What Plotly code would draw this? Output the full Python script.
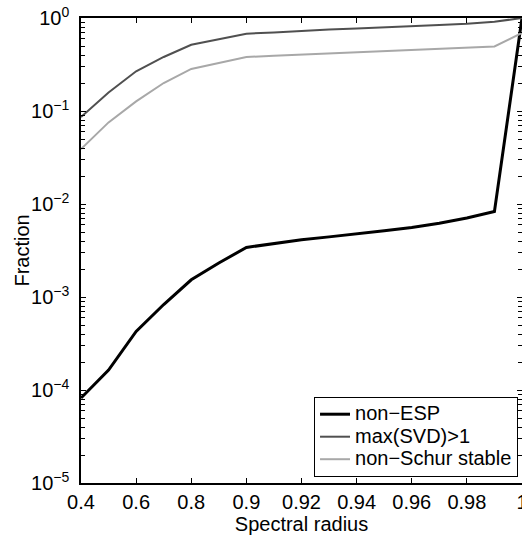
import plotly.graph_objects as go

# Spectral radius values (plotted on an ordinal axis, as in the reference)
radius = ["0.4", "0.5", "0.6", "0.7", "0.8", "0.85", "0.9", "0.91", "0.92", "0.93",
          "0.94", "0.95", "0.96", "0.97", "0.98", "0.99", "1"]

non_esp = [8.2e-5, 1.64e-4, 4.27e-4, 8.3e-4, 1.53e-3, 2.32e-3, 3.41e-3, 3.74e-3, 4.13e-3,
           4.43e-3, 4.76e-3, 5.16e-3, 5.6e-3, 6.2e-3, 7.07e-3, 8.3e-3, 1.0]
max_svd = [0.086, 0.158, 0.267, 0.381, 0.516, 0.594, 0.678, 0.70, 0.73, 0.752, 0.773,
           0.792, 0.812, 0.841, 0.868, 0.912, 1.0]
non_schur = [0.039, 0.0754, 0.127, 0.20, 0.283, 0.328, 0.381, 0.392, 0.403, 0.415, 0.428,
             0.44, 0.454, 0.467, 0.481, 0.495, 0.69]

series_names = ["non−ESP", "max(SVD)>1", "non−Schur stable"]

x_tick_labels = ["0.4", "0.6", "0.8", "0.9", "0.92", "0.94", "0.96", "0.98", "1"]
y_tick_vals = [1e-5, 1e-4, 1e-3, 1e-2, 1e-1, 1e0]
y_tick_text = ["10<sup>−5</sup>", "10<sup>−4</sup>", "10<sup>−3</sup>", "10<sup>−2</sup>",
               "10<sup>−1</sup>", "10<sup>0</sup>"]
y_minor_vals = [m * 10.0 ** e for e in range(-5, 0) for m in range(2, 10)]

FONT = "Liberation Sans, Arial, Helvetica, sans-serif"


def big(s):
    return '<span style="font-size:20px">' + s + "</span>"


fig = go.Figure()
fig.add_trace(go.Scatter(x=radius, y=non_esp, mode="lines", name=big(series_names[0]),
                         line=dict(color="#000000", width=3)))
fig.add_trace(go.Scatter(x=radius, y=max_svd, mode="lines", name=big(series_names[1]),
                         line=dict(color="#505050", width=2)))
fig.add_trace(go.Scatter(x=radius, y=non_schur, mode="lines", name=big(series_names[2]),
                         line=dict(color="#a8a8a8", width=2)))

fig.update_layout(
    width=522, height=535,
    margin=dict(l=81, r=0, t=18, b=52, autoexpand=False),
    paper_bgcolor="white", plot_bgcolor="white",
    font=dict(family=FONT, size=20, color="black"),
    showlegend=True,
    legend=dict(x=0.991, y=0.013, xanchor="right", yanchor="bottom",
                bgcolor="white", bordercolor="black", borderwidth=1,
                font=dict(size=15), tracegroupgap=0),
    xaxis=dict(
        type="category", categoryorder="array", categoryarray=radius,
        range=[0, len(radius) - 1], automargin=True,
        tickmode="array", tickvals=x_tick_labels, ticktext=x_tick_labels,
        ticks="inside", ticklen=5, tickwidth=1, tickcolor="black",
        showline=True, linecolor="black", linewidth=1.5, mirror="ticks",
        showgrid=False, zeroline=False,
        title=dict(text="Spectral radius", standoff=4, font=dict(size=20)),
    ),
    yaxis=dict(
        type="log", range=[-5, 0], automargin=True,
        tickmode="array", tickvals=y_tick_vals, ticktext=y_tick_text,
        ticks="inside", ticklen=5, tickwidth=1, tickcolor="black",
        minor=dict(tickmode="array", tickvals=y_minor_vals, ticks="inside", ticklen=4,
                   tickwidth=1, tickcolor="black", showgrid=False),
        showline=True, linecolor="black", linewidth=1.5, mirror="ticks",
        showgrid=False, zeroline=False,
        ticklabelstandoff=6,
    ),
    annotations=[dict(text="Fraction", textangle=-90, xref="paper", yref="paper",
                      x=-0.136, y=0.5, xanchor="center", yanchor="middle",
                      showarrow=False, font=dict(size=20))],
)

fig.write_html("out.html")
